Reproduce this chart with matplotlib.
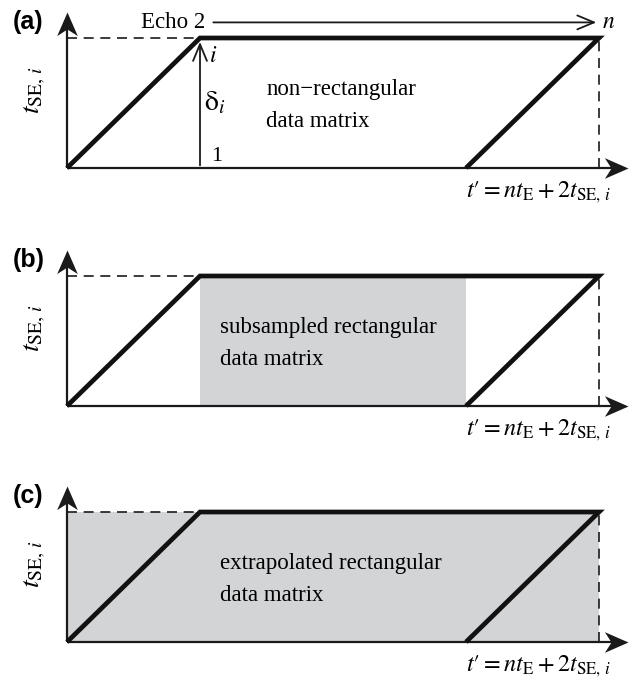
import matplotlib
matplotlib.use('Agg')
import matplotlib.pyplot as plt
from matplotlib.path import Path

plt.rcParams['font.family'] = ['Liberation Serif', 'DejaVu Serif']
plt.rcParams['mathtext.fontset'] = 'stix'

# schematic values (x in echo-ramp units, y in t_SE units)
outline_x = [0, 1, 4, 3]
outline_y = [0, 1, 1, 0]
x_end = 4
y_top = 1
x_arrow = 4.22
y_arrow = 1.2
panel_labels = ['(a)', '(b)', '(c)']
matrix_text = ['non\u2212rectangular\ndata matrix',
               'subsampled rectangular\ndata matrix',
               'extrapolated rectangular\ndata matrix']
shade_x = [None, (1, 3), (0, 4)]
origin_px = [168, 406, 642]   # pixel row of the origin in each panel

W, H = 638, 687
px_x = 133.0
px_y = 130.0
x0_px = 67
gray = '#d3d4d6'
ink = '#1a1a1a'

# notched arrow heads, tip at (0, 0)
head_r = Path([(0, 0), (-1.6, 0.7), (-1.15, 0), (-1.6, -0.7), (0, 0)],
              [Path.MOVETO, Path.LINETO, Path.LINETO, Path.LINETO, Path.CLOSEPOLY])
head_u = Path([(0, 0), (0.7, -1.6), (0, -1.15), (-0.7, -1.6), (0, 0)],
              [Path.MOVETO, Path.LINETO, Path.LINETO, Path.LINETO, Path.CLOSEPOLY])

fig = plt.figure(figsize=(W / 100, H / 100), dpi=100)

band = H / 3
for k in range(3):
    top = k * band
    bottom = (k + 1) * band
    ax = fig.add_axes([0, 1 - bottom / H, 1, band / H])
    ax.set_xlim(-x0_px / px_x, (W - x0_px) / px_x)
    ax.set_ylim(-(bottom - origin_px[k]) / px_y, (origin_px[k] - top) / px_y)
    ax.axis('off')

    if shade_x[k] is not None:
        a, b = shade_x[k]
        ax.fill_between([a, b], 0, y_top, color=gray, lw=0, zorder=0)

    # axes with arrow heads
    ax.plot([0, 0], [0, y_arrow - 0.05], lw=1.6, color=ink, solid_capstyle='butt')
    ax.plot([0, x_arrow - 0.05], [0, 0], lw=1.6, color=ink, solid_capstyle='butt')
    ax.plot([0], [y_arrow], marker=head_u, ms=34, color=ink, mew=0, ls='none')
    ax.plot([x_arrow], [0], marker=head_r, ms=34, color=ink, mew=0, ls='none')

    ax.plot([0, 1], [y_top, y_top], ls=(0, (6, 4)), lw=1.2, color=ink)
    ax.plot([x_end, x_end], [0, y_top], ls=(0, (6, 4)), lw=1.2, color=ink)
    ax.plot(outline_x, outline_y, lw=3.4, color='#111111',
            solid_joinstyle='miter', solid_capstyle='butt')

    ax.text(-0.29, 1.12, panel_labels[k], family='Liberation Sans',
            fontweight='bold', fontsize=18, ha='center', va='center')
    ax.text(-0.24, 0.6, r'$t_{\mathrm{SE},\,i}$', fontsize=20, rotation=90,
            ha='center', va='center')
    ax.text(3.0, -0.19, r"$t\prime = nt_{\mathrm{E}} + 2t_{\mathrm{SE},\,i}$",
            fontsize=17.5, ha='left', va='center')

    tx = 1.5 if k == 0 else 1.15
    lines = matrix_text[k].split('\n')
    ax.text(tx, 0.6, lines[0], fontsize=16.5, ha='left', va='center')
    ax.text(tx, 0.36, lines[1], fontsize=16.5, ha='left', va='center')

    if k == 0:
        ax.text(1.04, 1.12, 'Echo 2', fontsize=16.5, ha='right', va='center')
        ax.annotate('', xy=(3.98, 1.12), xytext=(1.1, 1.12),
                    arrowprops=dict(arrowstyle='->,head_length=0.6,head_width=0.25',
                                    lw=1.3, color=ink, shrinkA=0, shrinkB=0,
                                    mutation_scale=20))
        ax.text(4.02, 1.12, r'$n$', fontsize=17, ha='left', va='center')
        ax.annotate('', xy=(1, 0.97), xytext=(1, 0.02),
                    arrowprops=dict(arrowstyle='->,head_length=0.6,head_width=0.25',
                                    lw=1.3, color=ink, shrinkA=0, shrinkB=0,
                                    mutation_scale=20))
        ax.text(1.07, 0.86, r'$i$', fontsize=17, ha='left', va='center')
        ax.text(1.08, 0.09, '1', fontsize=16, ha='left', va='center')
        ax.text(1.03, 0.5, r'$\mathrm{\delta}_{i}$', fontsize=20, ha='left', va='center')

fig.savefig('out.png', dpi=100)
